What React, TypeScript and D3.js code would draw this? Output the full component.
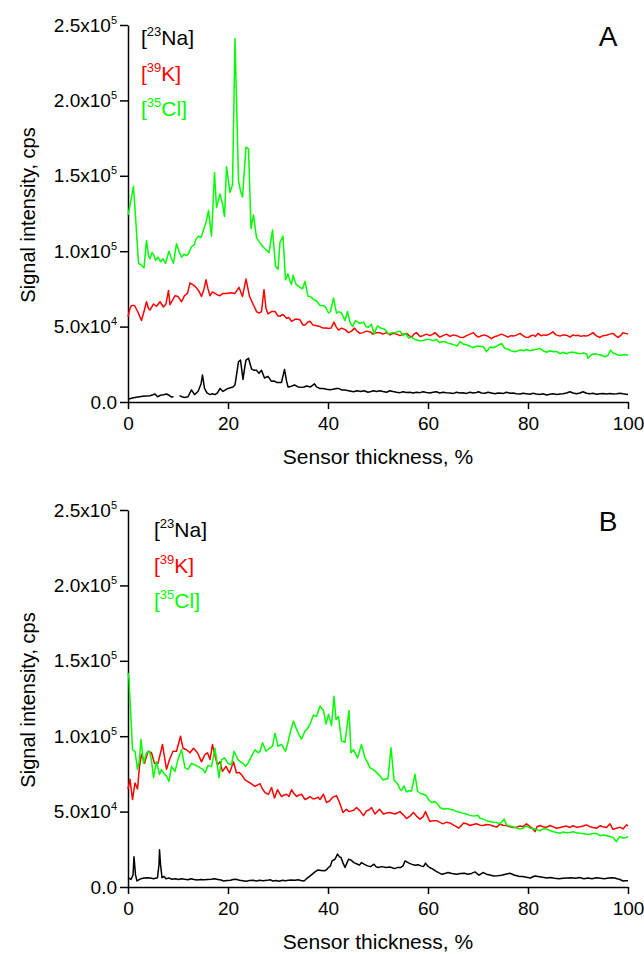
import { useEffect, useRef } from 'react';
import * as d3 from 'd3';

type Pt = [number, number | null];

const FONT = '"Liberation Sans", Arial, sans-serif';

const xTicks = [0, 20, 40, 60, 80, 100];
const yTicks = [0, 50000, 100000, 150000, 200000, 250000];
const isotopes = ['23', '39', '35'];
const elements = ['Na', 'K', 'Cl'];
const colors = ['#000000', '#ff0000', '#00ff00'];
const panelLabels = ['A', 'B'];
const xTitle = 'Sensor thickness, %';
const yTitle = 'Signal intensity, cps';

// [sensor thickness %, signal in 10^3 cps]
const naA: Pt[] = [[0,1.8],[0.7,2.5],[1.4,3],[2.3,3.5],[3,3.8],[3.7,4],[4.4,4.2],[5,4.8],[5.4,5.3],[5.9,3.5],[6.5,4.5],[7.1,4.8],[7.7,5.3],[8.2,4.5],[8.7,3.3],[9.1,3.5],[9.6,null],[10.3,4.2],[10.8,3.5],[11.3,3],[12,3.5],[12.7,8],[13.3,4.9],[14,7],[14.6,12],[14.9,17.9],[15.3,9],[15.8,6],[16.4,4.9],[16.9,5.5],[17.4,4.9],[17.9,6],[18.4,9],[19,7],[19.5,8],[20,9],[20.5,9.5],[21,10],[21.4,11.3],[21.8,20],[22.1,26.7],[22.5,27.8],[23,15],[23.3,22],[23.6,27.8],[24.1,29],[24.7,22],[25.2,21],[25.7,21],[26.2,19],[26.7,21],[27.3,15.9],[28,17],[28.7,13.7],[29.2,14],[29.7,13],[30.2,13],[30.7,13],[31.3,21.6],[31.7,14],[32,10],[32.7,10.5],[33.3,11.3],[34,10],[34.7,9.7],[35.2,10],[35.7,10.6],[36.5,10],[37.3,12],[37.7,10],[38.3,9],[39,9],[39.7,8.5],[40.3,8.2],[41,8.5],[41.7,9],[42.1,9],[42.7,8],[43.4,8],[44.1,7.5],[45.1,6.8],[45.8,7.5],[46.5,7],[47.2,7.5],[48,6.5],[48.6,7],[49.1,7.5],[49.7,7],[50.4,7.5],[51,7],[51.7,6.5],[52.4,7.5],[53,7],[53.7,6.5],[54.4,6.2],[55,6.8],[55.7,6.3],[56.4,6.5],[57,6],[57.7,6.5],[58.4,6.2],[59,6.8],[59.7,6.3],[60.4,6],[61,6.5],[61.7,6.8],[62.3,6],[63,6.5],[63.7,6.2],[64.4,6],[65.1,5.7],[65.7,6.5],[66.4,6],[67,6.2],[67.7,5.7],[68.4,6.5],[69,6],[69.7,6.3],[70.1,6.8],[70.7,6],[71.4,5.8],[72,6.5],[72.7,6],[73.4,5.5],[74,6],[74.7,5.8],[75.1,5.7],[75.7,6.5],[76.4,5.8],[77,6],[77.7,5.5],[78.4,5.3],[79,5.8],[79.7,5.5],[80.4,5.2],[81,5.8],[81.7,5.3],[82.4,5],[83,5.5],[83.7,4.6],[84.4,5.2],[85,5.5],[85.7,5],[86.4,5.3],[87,5.5],[87.7,6],[88.4,6.8],[89,6],[89.7,5.5],[90.4,6],[91,6.8],[91.7,5.8],[92.4,5.5],[93,5.8],[93.7,5.2],[94.4,5.5],[95,5.7],[95.7,5.3],[96.4,5.6],[97,5.3],[97.7,5.5],[98.4,5.8],[99,5.4],[99.6,5.2],[100,5]];

const kA: Pt[] = [[0,56.5],[0.4,62],[0.7,64],[1.3,64],[2,59.5],[2.7,54],[3.2,60],[3.7,66.5],[4.1,62],[4.4,61],[5.1,65],[5.7,63.5],[6.4,66.5],[7.1,63],[7.6,65],[8.1,74],[8.4,64.5],[9,68],[9.4,70.5],[10,70],[10.7,66.5],[11.3,70.5],[11.9,72],[12.4,79],[13.1,77.5],[13.6,76],[14.1,74],[14.7,70],[15.2,75],[15.6,81],[16,75],[16.4,70.5],[16.9,73],[17.4,72],[17.9,71],[18.4,70.5],[19,72],[19.7,72],[20.5,72.5],[21.4,72],[22.2,76],[22.9,70],[23.6,81.5],[24.3,70],[25,65],[25.7,60],[26.2,59],[26.7,60],[27.2,74.5],[27.6,62],[28,58.5],[28.7,60],[29.4,60],[30,57],[30.4,57],[31,58],[31.7,55.5],[32.2,56],[32.7,53.5],[33.5,55],[34.4,54.5],[35,51],[35.4,51],[36,53],[36.4,53.5],[37,51],[37.7,50.5],[38.4,50],[39,49],[39.7,49],[40.1,48.8],[40.6,49],[41.2,53],[41.6,50],[42.1,47.7],[42.7,49],[43.4,48],[44.1,46],[44.7,47],[45.3,49],[45.8,47],[46.4,45.5],[47,46],[47.7,47],[48.4,46.5],[49,45],[49.7,46],[50.4,46],[51,45],[51.7,46],[52.4,44.5],[53,45.5],[53.7,45],[54.4,44],[55,45],[55.7,45.5],[56.2,44],[56.7,43],[57.2,45],[57.7,46],[58.4,43.5],[59,44],[59.7,45],[60.4,44],[61,45],[61.4,46],[62,44],[62.4,43],[63,44],[63.7,45],[64.4,43.5],[65.1,44.5],[65.7,44],[66.4,43],[67.1,42.8],[67.7,44],[68.4,45],[69.1,46],[69.6,44],[70.1,43],[70.7,44],[71.3,44.5],[72,43.5],[72.7,42],[73.4,43.5],[74,44],[74.7,45],[75.4,44],[76,43],[76.6,44],[77.1,43.7],[77.8,44.5],[78.4,45.5],[79,44],[79.5,43],[80.1,42.8],[80.6,44],[81,44.3],[81.5,43.5],[82,45.5],[82.6,44],[83.2,44.5],[83.7,44.3],[84.3,45],[85,46.5],[85.6,44.5],[86.4,43.7],[87,44.5],[87.7,44.3],[88.4,43],[89,44.5],[89.5,44],[90,44.3],[90.6,43.5],[91.1,44],[91.7,43.7],[92.3,44.5],[93,46],[93.6,44],[94.4,42.8],[95,44],[95.7,44.3],[96.3,45],[97,45.5],[97.5,44],[98,42.8],[98.5,44],[99,46],[99.5,45.5],[100,45]];

const clA: Pt[] = [[0,124],[0.5,132],[1.1,143],[1.6,118],[2.1,92],[2.6,91],[3.2,89],[3.7,107],[4.1,97],[4.4,95],[4.8,99],[5.1,98],[5.5,94],[6,96],[6.5,93],[7,95],[7.5,92],[8.2,100],[8.6,96],[9.1,92],[9.7,105],[10.2,100],[10.7,96],[11.2,98],[11.7,97],[12.2,99],[12.7,103],[13.2,104],[13.6,108],[14.1,110],[14.6,109],[15.1,114],[15.6,119],[16.1,127],[16.7,110],[17.3,152],[17.7,129],[18.4,138],[18.9,131],[19.3,123],[19.7,156],[20.4,139],[20.9,144],[21.4,241],[22.1,147],[22.5,140],[22.9,136],[23.6,169],[24.1,168],[24.6,115],[25.1,124],[25.7,109],[26.3,106],[27,103],[27.6,101],[28.2,99],[28.9,114],[29.5,90],[30,88],[30.4,106],[31,110],[31.5,81],[32,85],[32.4,80],[32.7,78],[33,84],[33.6,78],[34.4,76],[34.9,75],[35.4,80],[36,70],[36.5,70],[37.1,68],[37.7,67],[38.4,64],[39,64],[39.5,63],[40.1,59],[40.5,60],[41.1,69],[41.7,59],[42.2,60],[42.7,59],[43.4,54],[43.9,60],[44.4,53],[44.9,50],[45.5,54],[46,53],[46.4,52],[47.1,53],[47.6,50],[48,49.5],[48.7,51.5],[49.2,45],[49.9,50.5],[50.5,49],[51.2,48.5],[51.7,47],[52.1,45],[52.7,46],[53.4,46],[54.4,47],[55,44],[55.5,45.5],[56.1,42.5],[56.7,43],[57.4,41.5],[58,41],[58.4,40.5],[59.2,41],[59.8,41.5],[60.4,41.5],[61,40.5],[61.7,41.5],[62.3,39.5],[62.8,40],[63.4,40],[64,39],[64.7,38.5],[65.4,37.7],[65.8,37],[66.4,40],[67,38.5],[67.7,38],[68.4,37],[69,36],[69.7,37],[70.4,37],[71.1,36.6],[71.7,33.3],[72.4,36.5],[73,36],[73.7,37],[74.7,38.8],[75.4,35.5],[76,35],[76.6,34],[77.4,33.3],[78,34],[78.6,34.5],[79.2,34],[79.7,34.8],[80.4,34],[81,34.5],[81.7,35],[82.4,35.5],[83,34],[83.7,33],[84.4,34],[85.1,33.3],[85.7,33.5],[86.4,32],[87,33],[87.7,32],[88.4,33],[89,33],[89.7,32.5],[90.4,32],[91,32.5],[91.7,32],[92,29],[92.7,31.5],[93.4,32],[94,31.5],[94.7,31],[95.4,30],[96,31],[96.5,34.4],[97,32.5],[97.5,32],[98.1,31],[98.7,31],[99.4,31.5],[100,31]];

const naB: Pt[] = [[0,6.2],[0.6,5],[1,8],[1.2,20],[1.5,8],[1.8,4],[2.6,5.5],[3.2,6],[3.9,6.2],[4.5,6],[5.1,5.5],[5.9,6.2],[6.2,15],[6.3,24.7],[6.5,15],[6.8,6.2],[7.2,7],[7.6,5.5],[8.2,6],[8.8,5.1],[9.5,5.5],[10.1,5],[10.7,5.5],[11.3,5.1],[12,4.8],[12.6,5.5],[13.2,5],[13.8,4.7],[14.5,5],[15.2,4.8],[15.9,5],[16.6,5.1],[17.3,5.5],[18,5],[18.6,4.6],[19.1,4],[19.8,4.3],[20.5,4.5],[21,5],[21.6,5.1],[22.3,4.5],[23,4.2],[23.6,3.8],[24.3,4.3],[25,4.5],[25.7,4],[26.3,4.5],[27,4.2],[27.8,4.4],[28.4,4.8],[29,4],[29.6,4.3],[30.2,3.8],[30.9,4.5],[31.5,4.2],[32.1,4.5],[32.7,4.7],[33.4,4.5],[34,4.8],[34.6,4.3],[35.2,4],[35.7,5.5],[36.3,7],[36.8,8.4],[37.4,10],[38,11.3],[38.6,11],[39.3,10.7],[39.7,11.5],[40.1,12.9],[40.5,14],[40.8,17.3],[41.4,18.4],[41.9,21.8],[42.3,20],[42.6,19.6],[43,16],[43.4,12.9],[43.8,16],[44.1,18.4],[44.6,17.8],[45.2,16.2],[45.9,15.1],[46.3,14.5],[46.7,16.2],[47.3,15],[47.9,14],[48.5,13.5],[49.2,15.1],[49.6,13.5],[50,12.9],[50.8,13.5],[51.6,12.9],[52.4,13.3],[53.3,12.2],[54,13],[54.5,12.9],[55,14],[55.4,17.3],[56.2,15.8],[56.8,15],[57.4,14.4],[58,14.8],[58.6,14],[59.1,13.5],[59.5,15.8],[59.9,14],[60.3,12.9],[60.9,12],[61.5,10.7],[62.1,9.5],[62.8,8.4],[63.4,9],[64,9.6],[64.8,9],[65.7,8.4],[66.5,9],[67.3,9.1],[68,8.5],[68.7,9],[69.4,10],[70.2,7.8],[71,9.6],[71.7,8.5],[72.4,8],[73.1,7.3],[73.9,7.5],[74.7,7.8],[75.5,8.5],[76.4,9.1],[77.2,8],[77.8,7.5],[78.4,6.9],[79,7],[79.7,6.5],[80.5,6],[81.3,7.3],[82,7],[82.9,6.5],[83.8,6],[84.5,6.3],[85.3,5.8],[86.2,5.5],[87,5.8],[87.8,6],[88.7,6.2],[89.5,5.8],[90.3,6.3],[91.2,5.5],[92,6],[92.8,5.5],[93.7,6.2],[94.5,5.8],[95.3,5.5],[96.1,6],[96.8,6.2],[97.4,6],[97.8,5.5],[98.4,5],[99,4],[99.5,4.2],[100,4.2]];

const kB: Pt[] = [[0,65],[0.4,71.4],[0.9,58],[1.4,69],[1.9,65],[2.3,80],[2.7,88],[3.3,82],[4,90],[4.7,89],[5.3,82],[6,82],[6.9,94.5],[7.7,78],[8.3,84.5],[9,90],[9.7,90],[10.5,100],[11,92],[11.7,91],[12.4,89],[13.1,92],[13.9,89],[14.7,83],[15.4,88],[15.9,89],[16.4,84.5],[16.9,94.5],[17.4,87],[17.9,81],[18.4,83],[18.9,76.7],[19.6,80],[20.3,75.6],[21.1,83],[21.7,75.6],[22.2,76],[22.7,74.5],[23.4,71],[23.9,70],[24.4,69],[25.4,66.7],[26.4,68.5],[26.9,65],[27.4,62.6],[28.1,61.5],[28.7,66],[29.3,59],[29.9,64.5],[30.7,60],[31.2,61],[31.7,61.5],[32.2,60],[32.7,64.5],[33.2,62],[33.7,60],[34.2,61],[34.7,61.5],[35.4,58],[36,59],[36.4,60],[37,58.5],[37.4,58.6],[38,59.5],[38.4,58],[39.1,61.5],[39.7,56],[40.3,57],[41,59.6],[41.7,60.6],[42.3,56],[43,49.4],[43.7,51.6],[44.2,50],[44.7,50.5],[45.2,51],[45.7,52.7],[46.4,50.5],[47.1,47.3],[47.7,50.5],[48.2,51],[48.7,52.7],[49.4,48.4],[50.3,51.6],[51.1,48.4],[51.7,49],[52.4,49.4],[53.4,48.4],[54.4,50],[55,48],[55.7,45.4],[56.4,47],[57.1,49.4],[57.7,47],[58.4,45],[59,46.5],[59.5,50],[60,46],[60.4,43.4],[61,44],[61.7,44],[62.3,43],[63,41.9],[63.7,43],[64.4,42.5],[65.1,41],[65.7,40],[66.1,39],[66.6,40.5],[67.1,42.5],[67.7,42],[68.4,40.8],[69,41.5],[69.7,41.9],[70.4,41],[71.1,40.8],[71.7,41.5],[72.4,41.2],[73,40.5],[73.7,39.7],[74.4,41.7],[75,41],[75.7,40.8],[76.4,40],[77,39.5],[77.7,39.7],[78.4,40.5],[79,40],[79.7,41.9],[80.4,40],[81,38.6],[81.4,36.7],[81.8,40],[82.4,40.8],[83,40],[83.7,39.5],[84.4,40.8],[85,40],[85.7,39],[86.4,39.5],[87,40],[87.7,40.4],[88.4,39.5],[89,40.6],[89.7,39.7],[90.4,40],[91,40.5],[91.7,41.2],[92.4,40],[93,39.5],[93.7,39],[94.4,40.6],[95,40],[95.7,39.5],[96.4,41.9],[97,38.2],[97.7,39],[98.4,39.7],[99,38.5],[99.7,41.2],[100,40.5]];

const clB: Pt[] = [[0,142],[0.2,138],[0.4,124],[0.7,105],[0.9,91],[1.4,90],[1.9,78],[2.3,84.5],[2.6,98],[3.1,82],[3.7,89],[4.3,90],[4.7,84],[5.1,72.5],[5.7,83],[6.3,74.7],[6.7,78],[7.1,75.6],[7.7,73.5],[8.2,70],[8.7,80],[9.4,76.7],[10,84.5],[10.7,91],[11.4,79],[12,78],[12.7,82],[13.4,81],[14,80],[14.4,79],[15,78],[15.4,75.6],[16,80.5],[16.7,80],[17.4,92],[17.7,84.5],[18.2,72.5],[18.7,84.5],[19.3,85.6],[20,82],[20.7,81],[21.2,90],[22,84.5],[22.5,83],[23,82],[23.5,80],[24,82],[24.7,86.6],[25.4,91],[26,89],[26.4,90],[26.9,95.7],[27.6,90],[28.3,92],[28.9,93.4],[29.4,102],[30,93.4],[30.7,94.5],[31.5,90],[32,96],[32.4,102],[33.1,110],[33.7,104.7],[34.2,101],[34.7,98],[35.4,103.5],[35.9,105],[36.4,108],[37.1,114],[37.7,113],[38.4,120],[39.1,117],[39.6,108],[40.1,114.5],[40.7,107],[41.2,126.5],[41.6,111],[42.1,113],[42.7,96.8],[43.4,96],[44.2,117],[44.6,89],[45.1,91],[45.9,85.6],[46.7,94.5],[47.4,85.6],[48,82],[48.4,79],[49,78],[49.7,76],[50.3,74],[51,71],[52,72],[52.6,92.4],[53.2,71],[54,68],[54.4,65],[54.7,64],[55.2,67],[55.7,63],[56.2,64],[56.7,63.5],[57.4,74.7],[57.9,63.5],[58.5,62],[59.1,61.5],[59.7,60.4],[60.1,58],[60.7,56],[61.4,56.7],[61.9,55],[62.4,52.7],[63,51.6],[63.7,52],[64.4,51.5],[65.1,51],[65.7,50],[66.4,49.5],[67,49],[67.7,48.4],[68.4,47.5],[69.1,47],[70,47.6],[70.4,45.6],[71,45],[71.7,44],[72.4,43.5],[73.1,43],[73.7,42.8],[74.4,42],[75.2,45],[75.7,41.2],[76.4,40.5],[77.4,39.5],[78.4,38.5],[79,39],[79.7,40.6],[80.4,39],[81.1,38.8],[81.7,38],[82.4,37.3],[83,38.5],[83.7,38.4],[84.4,37.5],[85.1,36.6],[85.7,36.2],[86.4,35.6],[87,36.5],[87.7,36],[88.4,36.2],[89,36.7],[89.7,36],[90.4,35.6],[91,35.5],[91.7,35],[92.4,35],[93,35.5],[93.7,35.5],[94.4,34],[95,34.5],[95.7,34],[96.4,33.5],[97,32.9],[97.7,30],[98,32],[98.4,33.4],[99,32.5],[99.7,32.9],[100,33.5]];

const panelSeries = [[naA, kA, clA], [naB, kB, clB]];

function App() {
  const svgRef = useRef<SVGSVGElement>(null);

  useEffect(() => {
    const svg = d3.select(svgRef.current);
    svg.selectAll('*').remove();

    const left = 128, right = 628, plotH = 377;
    const tops = [25, 510];
    const legendPos = [[141, 45], [154, 537]];

    const x = d3.scaleLinear().domain([0, 100]).range([left, right]);

    tops.forEach((top, p) => {
      const y = d3.scaleLinear().domain([0, 250000]).range([top + plotH, top]);

      // x axis
      const gx = svg.append('g')
        .attr('transform', `translate(0,${y(0)})`)
        .call(d3.axisBottom(x).tickValues(xTicks).tickSize(7).tickSizeOuter(0).tickPadding(8).tickFormat(d3.format('d')))
        .attr('font-family', FONT).attr('font-size', 19);
      gx.select('.domain').attr('stroke', '#000').attr('stroke-width', 1.5);
      gx.selectAll('.tick line').attr('stroke', '#000').attr('stroke-width', 1.5);
      gx.selectAll('.tick text').attr('fill', '#000');

      // y axis
      const gy = svg.append('g')
        .attr('transform', `translate(${left},0)`)
        .call(d3.axisLeft(y).tickValues(yTicks).tickSize(8).tickSizeOuter(0).tickPadding(3))
        .attr('font-family', FONT).attr('font-size', 19);
      gy.select('.domain').attr('stroke', '#000').attr('stroke-width', 1.5);
      gy.selectAll('.tick line').attr('stroke', '#000').attr('stroke-width', 1.5);
      gy.selectAll<SVGTextElement, number>('.tick text').each(function (d) {
        const t = d3.select(this).attr('fill', '#000').text(null);
        if (d === 0) { t.text('0.0'); return; }
        const e = Math.floor(Math.log10(d));
        const m = d / Math.pow(10, e);
        t.append('tspan').text(`${m.toFixed(1)}x10`);
        t.append('tspan').attr('dy', -8).attr('font-size', 11).text(String(e));
      });

      // curves
      const line = d3.line<Pt>()
        .defined(d => d[1] != null)
        .x(d => x(d[0]))
        .y(d => y((d[1] as number) * 1000));
      panelSeries[p].forEach((s, i) => {
        svg.append('path').datum(s)
          .attr('d', line)
          .attr('fill', 'none')
          .attr('stroke', colors[i])
          .attr('stroke-width', 1.5)
          .attr('stroke-linejoin', 'round');
      });

      // legend
      const [lx, ly] = legendPos[p];
      isotopes.forEach((iso, i) => {
        const t = svg.append('text')
          .attr('x', lx).attr('y', ly + i * 35.7)
          .attr('font-family', FONT).attr('font-size', 21)
          .attr('fill', colors[i]);
        t.append('tspan').text('[');
        t.append('tspan').attr('dy', -9).attr('font-size', 13).text(iso);
        t.append('tspan').attr('dy', 9).text(`${elements[i]}]`);
      });

      // panel letter
      svg.append('text')
        .attr('x', 608).attr('y', top + 21)
        .attr('text-anchor', 'middle')
        .attr('font-family', FONT).attr('font-size', 28)
        .text(panelLabels[p]);

      // axis titles
      svg.append('text')
        .attr('x', (left + right) / 2).attr('y', y(0) + 62)
        .attr('text-anchor', 'middle')
        .attr('font-family', FONT).attr('font-size', 21)
        .text(xTitle);
      svg.append('text')
        .attr('transform', `translate(35,${top + 190}) rotate(-90)`)
        .attr('text-anchor', 'middle')
        .attr('font-family', FONT).attr('font-size', 20)
        .text(yTitle);
    });
  }, []);

  return (
    <svg
      ref={svgRef}
      width={644}
      height={954}
      style={{ position: 'absolute', left: 0, top: 0, background: '#fff', display: 'block' }}
    />
  );
}

export default App;
